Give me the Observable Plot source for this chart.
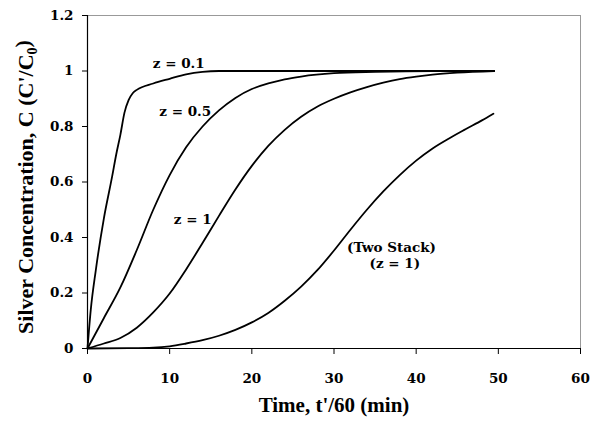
<!DOCTYPE html>
<html><head><meta charset="utf-8">
<script src="https://cdn.jsdelivr.net/npm/d3@7"></script>
<script src="https://cdn.jsdelivr.net/npm/@observablehq/plot@0.6"></script>
<style>body{margin:0;background:#fff}</style>
</head><body><div id="chart"></div>
<script>
const xTicks = [0, 10, 20, 30, 40, 50, 60];
const yTicks = [0, 0.2, 0.4, 0.6, 0.8, 1, 1.2];

const tZ01 = [0, 0.4, 1, 2, 3, 3.5, 4, 4.5, 5, 5.5, 6, 8, 10, 12, 14, 16, 25, 35, 49.5];
const cZ01 = [0, 0.14, 0.28, 0.47, 0.62, 0.7, 0.77, 0.85, 0.895, 0.92, 0.932, 0.955, 0.972, 0.988, 0.997, 1, 1, 1, 1];

const tZ05 = [0, 2, 4, 6, 8, 10, 12, 14, 16, 18, 20, 22, 24, 26, 30, 35, 42, 49.5];
const cZ05 = [0, 0.11, 0.22, 0.355, 0.5, 0.625, 0.725, 0.8, 0.858, 0.903, 0.935, 0.955, 0.97, 0.98, 0.992, 0.997, 1, 1];

const tZ1 = [0, 2, 4, 6, 8, 10, 12, 14, 16, 18, 20, 22, 24, 26, 28, 30, 32, 34, 36, 38, 40, 42, 45, 49.5];
const cZ1 = [0, 0.018, 0.038, 0.075, 0.13, 0.198, 0.285, 0.38, 0.478, 0.573, 0.658, 0.73, 0.788, 0.835, 0.872, 0.9, 0.923, 0.942, 0.958, 0.971, 0.98, 0.987, 0.994, 1];

const tTwo = [0, 5, 8, 10, 12, 14, 16, 18, 20, 22, 24, 26, 28, 30, 32, 34, 36, 38, 40, 42, 44, 46, 48, 49.4];
const cTwo = [0, 0.001, 0.003, 0.008, 0.018, 0.03, 0.046, 0.067, 0.094, 0.128, 0.172, 0.223, 0.283, 0.353, 0.428, 0.5, 0.566, 0.625, 0.677, 0.721, 0.757, 0.79, 0.822, 0.846];

const labelText = ["z = 0.1", "z = 0.5", "z = 1", "(Two Stack)", "(z = 1)"];
const labelT = [11.1, 11.9, 12.8, 37.0, 37.4];
const labelC = [1.027, 0.852, 0.465, 0.362, 0.305];

const series = [
  {name: "z01", t: tZ01, c: cZ01},
  {name: "z05", t: tZ05, c: cZ05},
  {name: "z1", t: tZ1, c: cZ1},
  {name: "two", t: tTwo, c: cTwo}
];
const lineData = series.flatMap(s => s.t.map((t, i) => ({series: s.name, t, c: s.c[i]})));
const labels = labelText.map((text, i) => ({text, t: labelT[i], c: labelC[i]}));

const titleFont = "'Liberation Serif', 'Times New Roman', serif";
const tickFont = "'DejaVu Serif', serif";

const chart = Plot.plot({
  width: 600, height: 423,
  marginLeft: 87, marginRight: 20, marginTop: 15, marginBottom: 75,
  x: {domain: [0, 60]},
  y: {domain: [0, 1.2]},
  style: {fontFamily: titleFont, fontWeight: "bold", fontSize: "15px", color: "black", background: "white"},
  marks: [
    Plot.ruleY([1.2], {stroke: "#999", strokeWidth: 1}),
    Plot.ruleX([60], {stroke: "#999", strokeWidth: 1}),
    Plot.axisX({ticks: xTicks, tickSize: 6, tickPadding: 19, tickFormat: d => String(d),
      label: "Time, t'/60 (min)", labelAnchor: "center", labelArrow: "none", labelOffset: 63, fontSize: 13.5}),
    Plot.axisY({ticks: yTicks, tickSize: 5, tickPadding: 9, tickFormat: d => String(d),
      label: "Silver Concentration, C (C'/C0)", labelAnchor: "center", labelArrow: "none", labelOffset: 70, fontSize: 13.5}),
    Plot.ruleX([0], {stroke: "black", strokeWidth: 1.2}),
    Plot.ruleY([0], {stroke: "black", strokeWidth: 1.2}),
    Plot.line(lineData, {x: "t", y: "c", z: "series", stroke: "black", strokeWidth: 1.8, curve: "monotone-x"}),
    Plot.text(labels, {x: "t", y: "c", text: "text", fontSize: 13.5, fontWeight: "bold", fill: "black", fontFamily: tickFont})
  ]
});
document.getElementById("chart").appendChild(chart);

const svg = d3.select(chart);
svg.selectAll('g[aria-label="x-axis tick label"], g[aria-label="y-axis tick label"]').attr("font-family", tickFont);
svg.select('g[aria-label="x-axis label"] text').attr("font-size", 21);
const yl = svg.select('g[aria-label="y-axis label"] text').attr("font-size", 22);
yl.text(null);
yl.append("tspan").attr("dx", -5).text("Silver Concentration, C (C'/C");
yl.append("tspan").attr("font-size", 14).attr("dy", "0.3em").text("0");
yl.append("tspan").attr("dy", "-0.35em").text(")");
</script>
</body></html>
